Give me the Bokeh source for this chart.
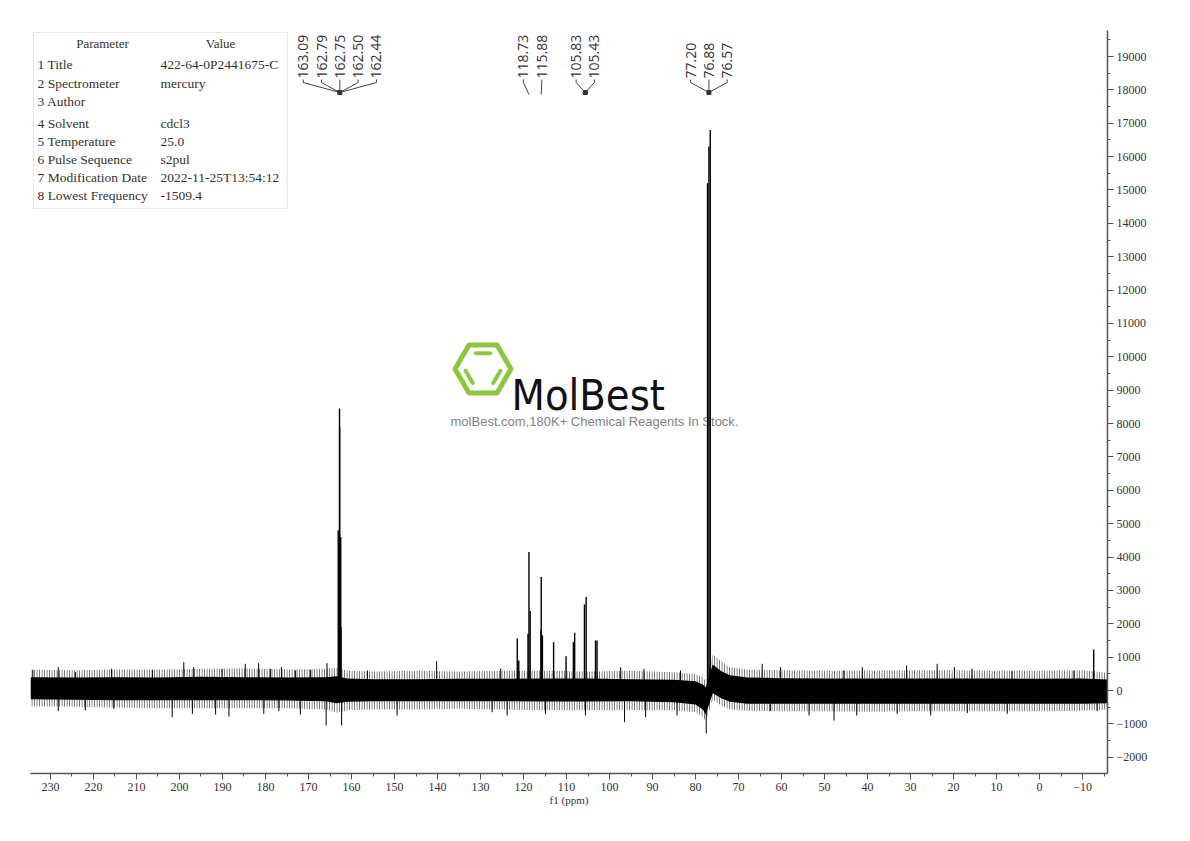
import math
from bokeh.plotting import figure
from bokeh.models import Range1d, SingleIntervalTicker, BoxAnnotation
from bokeh.core.properties import value
from bokeh.embed import file_html
from bokeh.resources import INLINE

# ---------------- data ----------------
# signal peaks: chemical shift (ppm) and intensity
peak_ppm = [163.09, 162.79, 162.75, 162.50, 162.44,
            121.45, 121.10, 118.95, 118.73, 118.45, 115.95, 115.88, 115.60,
            113.00, 110.10, 108.40, 108.10, 105.83, 105.43, 103.25, 102.90,
            77.20, 76.88, 76.57, -12.6]
peak_int = [4800, 8450, 7900, 4600, 1900,
            1560, 900, 1700, 4150, 2380, 1800, 3400, 1650,
            1450, 1030, 1450, 1730, 2580, 2800, 1500, 1500,
            15200, 16300, 16800, 1230]

# labelled peak groups (as printed on top of the spectrum)
label_groups = [[163.09, 162.79, 162.75, 162.50, 162.44],
                [118.73, 115.88],
                [105.83, 105.43],
                [77.20, 76.88, 76.57]]
label_converge = [True, False, True, True]

# baseline noise envelope (dense core and sparse fringe)
noise_ppm = [234.65, 225, 215, 205, 195, 185, 175, 166, 163.5, 161, 155, 145, 135,
             125, 115, 105, 95, 85, 80, 78.3, 77.6, 76.0, 74, 72, 68, 60, 50, 40,
             30, 20, 10, 0, -10, -15.81]
core_hi = [400, 390, 400, 390, 410, 400, 390, 400, 430, 360, 340, 340, 350,
           350, 360, 360, 340, 320, 280, 180, 100, 780, 580, 460, 390, 370, 360, 360,
           360, 360, 360, 350, 360, 330]
core_lo = [-260, -280, -290, -290, -290, -290, -300, -320, -380, -340, -320, -320, -320,
           -320, -330, -330, -320, -350, -420, -570, -720, -80, -230, -340, -400, -400, -400, -400,
           -400, -400, -400, -400, -400, -380]
fringe_hi = [620, 610, 630, 620, 650, 660, 630, 650, 680, 590, 570, 590, 570,
             590, 590, 570, 590, 550, 490, 400, 280, 1080, 880, 700, 620, 610, 590, 600,
             610, 610, 590, 590, 610, 530]
fringe_lo = [-470, -490, -510, -530, -530, -530, -530, -570, -670, -590, -570, -570, -550,
             -570, -590, -590, -590, -590, -650, -780, -930, -280, -450, -570, -610, -620, -620, -630,
             -620, -620, -620, -620, -610, -570]

# isolated noise spikes
up_spike_ppm = [234.1, 228.2, 224.2, 215.8, 206.3, 199.0, 196.7, 190.1, 184.7, 181.6,
                178.8, 176.3, 173.0, 169.5, 165.7, 156.3, 140.2, 125.3, 97.4, 92.0,
                83.5, 64.5, 60.2, 45.5, 41.2, 30.9, 23.8, 19.8, 15.7, 6.4, -8.0]
up_spike_int = [620, 700, 550, 650, 620, 850, 700, 650, 800, 820,
                650, 700, 600, 620, 820, 600, 880, 650, 700, 650,
                600, 800, 700, 600, 700, 750, 800, 700, 650, 580, 600]
down_spike_ppm = [228.2, 221.9, 215.3, 201.7, 197.0, 191.6, 188.5, 180.4, 176.9, 171.9,
                  165.9, 162.3, 149.4, 127.3, 123.8, 114.9, 105.6, 96.5, 91.6, 84.3,
                  77.5, 62.6, 53.6, 47.8, 42.5, 33.1, 25.3, 16.8, 7.5, -13.4]
down_spike_int = [-620, -600, -550, -800, -700, -720, -780, -700, -620, -720,
                  -1050, -1050, -750, -650, -750, -700, -750, -950, -800, -750,
                  -1290, -620, -750, -900, -750, -700, -750, -680, -700, -620]

# parameter table
table_header = ["Parameter", "Value"]
param_names = ["1 Title", "2 Spectrometer", "3 Author", "4 Solvent", "5 Temperature",
               "6 Pulse Sequence", "7 Modification Date", "8 Lowest Frequency"]
param_values = ["422-64-0P2441675-C", "mercury", "", "cdcl3", "25.0", "s2pul",
                "2022-11-25T13:54:12", "-1509.4"]

x_tick_interval = 10
y_tick_interval = 1000

# ---------------- layout ----------------
X0, X1 = 234.65, -15.81
Y0, Y1 = -2487, 19780
FL, FT, FW, FH = 30, 30, 1077, 743   # frame position/size on page (px)


def px_x(px):
    return X0 + (px - FL) * (X1 - X0) / FW


def px_y(py):
    return Y1 - (py - FT) * (Y1 - Y0) / FH


def x_px(ppm):
    return FL + (ppm - X0) * FW / (X1 - X0)


p = figure(frame_width=FW, frame_height=FH,
           x_range=Range1d(X0, X1), y_range=Range1d(Y0, Y1),
           y_axis_location="right", output_backend="svg", toolbar_location=None,
           min_border_left=FL, min_border_top=FT,
           min_border_right=0, min_border_bottom=0)
p.grid.visible = False
p.outline_line_color = None
p.background_fill_color = "white"

# axes
serif = value("Liberation Serif")
p.xaxis.ticker = SingleIntervalTicker(interval=x_tick_interval, num_minor_ticks=2)
p.yaxis.ticker = SingleIntervalTicker(interval=y_tick_interval, num_minor_ticks=2)
for ax in (p.xaxis[0], p.yaxis[0]):
    ax.axis_line_color = "#555555"
    ax.axis_line_width = 1.5
    ax.major_tick_line_color = "#555555"
    ax.minor_tick_line_color = "#555555"
    ax.major_tick_in = 0
    ax.minor_tick_in = 0
    ax.major_tick_out = 6
    ax.minor_tick_out = 3
    ax.major_label_text_font = "Liberation Serif"
    ax.major_label_text_font_size = "12px"
    ax.major_label_text_color = "#333333"
    ax.major_label_standoff = 3
p.xaxis.axis_label = "f1 (ppm)"
p.xaxis.axis_label_text_font = "Liberation Serif"
p.xaxis.axis_label_text_font_size = "11px"
p.xaxis.axis_label_text_font_style = "normal"
p.xaxis.axis_label_text_color = "#333333"
p.xaxis.axis_label_standoff = 0

# ---------------- watermark ----------------
green = "#8DC63F"
cx, cy, a, b = 482.5, 368.5, 28, 24
hex_px = [(cx - a, cy), (cx - a / 2, cy - b), (cx + a / 2, cy - b),
          (cx + a, cy), (cx + a / 2, cy + b), (cx - a / 2, cy + b)]
p.patch([px_x(u) for u, v in hex_px], [px_y(v) for u, v in hex_px],
        fill_alpha=0, line_color=green, line_width=5, line_join="round")
s = 0.66
inner = [(cx + (u - cx) * s, cy + (v - cy) * s) for u, v in hex_px]
edges = [(1, 2), (3, 4), (5, 0)]
xs, ys = [], []
for i, j in edges:
    (u1, v1), (u2, v2) = inner[i], inner[j]
    mu, mv = (u1 + u2) / 2, (v1 + v2) / 2
    k = 0.78
    xs.append([px_x(mu + (u1 - mu) * k), px_x(mu + (u2 - mu) * k)])
    ys.append([px_y(mv + (v1 - mv) * k), px_y(mv + (v2 - mv) * k)])
p.multi_line(xs, ys, line_color=green, line_width=4, line_cap="round")
p.text(x=[px_x(511)], y=[px_y(394)], text=["MolBest"],
       text_font=value("DejaVu Sans Condensed, DejaVu Sans, sans-serif"),
       text_font_size="43px", text_color="#111111", text_align="left",
       text_baseline="alphabetic")
p.text(x=[px_x(594)], y=[px_y(421)], text=["molBest.com,180K+ Chemical Reagents In Stock."],
       text_font=value("Liberation Sans"), text_font_size="13px", text_color="#7f7f7f",
       text_align="center", text_baseline="middle")

# ---------------- spectrum ----------------
p.varea(x=noise_ppm, y1=fringe_lo, y2=fringe_hi, fill_alpha=0,
        hatch_pattern="vertical_line", hatch_color="black", hatch_alpha=0.65,
        hatch_scale=2.5, hatch_weight=1)
p.varea(x=noise_ppm, y1=core_lo, y2=core_hi, fill_color="black")
p.segment(x0=up_spike_ppm, y0=[0] * len(up_spike_ppm), x1=up_spike_ppm, y1=up_spike_int,
          line_color="black", line_width=1)
p.segment(x0=down_spike_ppm, y0=[0] * len(down_spike_ppm), x1=down_spike_ppm, y1=down_spike_int,
          line_color="black", line_width=1)
p.segment(x0=peak_ppm, y0=[0] * len(peak_ppm), x1=peak_ppm, y1=peak_int,
          line_color="black", line_width=1.4)

# ---------------- peak labels ----------------
LAB_SP = 18.3
y_text, y_v, y_conv, y_single = 78, 82, 92, 94
lab_x, lab_txt, con_xs, con_ys, sq_x = [], [], [], [], []
for grp, conv in zip(label_groups, label_converge):
    gx = sum(x_px(v) for v in grp) / len(grp)
    n = len(grp)
    shift = 0 if conv else -2.5
    for i, v in enumerate(grp):
        lx = gx + (i - (n - 1) / 2) * LAB_SP + shift
        lab_x.append(px_x(lx))
        lab_txt.append(f"{v:.2f}")
        tx = gx if conv else x_px(v)
        ty = y_conv if conv else y_single
        con_xs.append([px_x(lx), px_x(lx), px_x(tx)])
        con_ys.append([px_y(y_text + 1), px_y(y_v), px_y(ty)])
    if conv:
        sq_x.append(px_x(gx))
p.multi_line(con_xs, con_ys, line_color="#444444", line_width=1)
p.scatter(x=sq_x, y=[px_y(y_conv)] * len(sq_x), marker="square", size=4, color="#333333")
p.text(x=lab_x, y=[px_y(y_text)] * len(lab_x), text=lab_txt, angle=math.pi / 2,
       text_font=value("Open Sans"), text_font_size="14px", text_color="#333333",
       text_align="left", text_baseline="middle")

# ---------------- parameter table ----------------
p.add_layout(BoxAnnotation(left=px_x(33), right=px_x(287), top=px_y(32), bottom=px_y(208),
                           fill_alpha=0, line_color="#b0b0b0", line_width=1))
row_y = [64, 83, 101, 123, 141, 159, 177, 195]
p.text(x=[px_x(102), px_x(220)], y=[px_y(43)] * 2, text=table_header,
       text_font=serif, text_font_size="13px", text_color="#333333",
       text_align="center", text_baseline="middle")
p.text(x=[px_x(37)] * len(param_names), y=[px_y(r) for r in row_y], text=param_names,
       text_font=serif, text_font_size="13.5px", text_color="#333333",
       text_align="left", text_baseline="middle")
p.text(x=[px_x(160)] * len(param_values), y=[px_y(r) for r in row_y], text=param_values,
       text_font=serif, text_font_size="13.5px", text_color="#333333",
       text_align="left", text_baseline="middle")

open("out.html", "w").write(file_html(p, INLINE))
